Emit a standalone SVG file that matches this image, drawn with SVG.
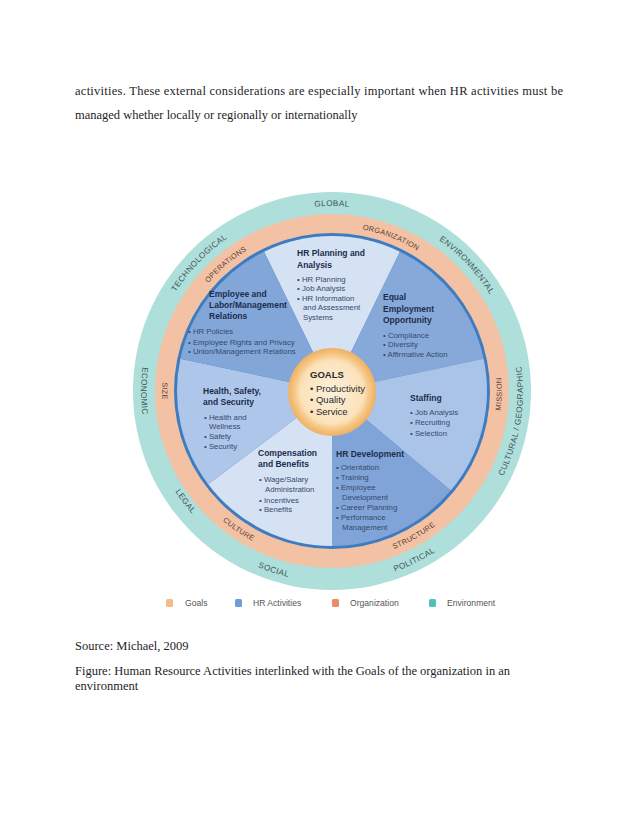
<svg xmlns="http://www.w3.org/2000/svg" width="638" height="826" viewBox="0 0 638 826">
<style>
.para{font-family:"Liberation Serif","Times New Roman",serif;font-size:12.5px;fill:#1e1e1e}
.env{font-family:"Liberation Sans",Arial,sans-serif;font-size:8.2px;fill:#3f5558;letter-spacing:0.4px}
.org{font-family:"Liberation Sans",Arial,sans-serif;font-size:7.4px;fill:#5a3d33;letter-spacing:0.3px}
.h{font-family:"Liberation Sans",Arial,sans-serif;font-size:8.5px;font-weight:bold;fill:#1d2d4d}
.b{font-family:"Liberation Sans",Arial,sans-serif;font-size:7.8px;fill:#36496d}
.g{font-family:"Liberation Sans",Arial,sans-serif;font-size:9.5px;fill:#2a2a2a}
.lg{font-family:"Liberation Sans",Arial,sans-serif;font-size:8.6px;fill:#555}
.sec{stroke:none}
</style>
<defs>
<radialGradient id="goalGrad" cx="50%" cy="50%" r="50%">
<stop offset="0%" stop-color="#fdf0db"/>
<stop offset="72%" stop-color="#fbe2ba"/>
<stop offset="84%" stop-color="#f6c98a"/>
<stop offset="100%" stop-color="#efb061"/>
</radialGradient>
<path id="pGlobal" d="M147,391 A185,185 0 0 1 517,391"/>
<path id="pEnv" d="M205.8,255.7 A185,185 0 0 1 458.2,526.3"/>
<path id="pTech" d="M203.5,524.1 A185,185 0 0 1 460.5,257.9"/>
<path id="pCult" d="M300.5,579.4 A191,191 0 0 0 363.5,202.6"/>
<path id="pPol" d="M160.3,474.7 A191,191 0 0 0 503.7,307.3"/>
<path id="pSoc" d="M150.3,332 A191,191 0 0 0 513.7,450"/>
<path id="pLegal" d="M217.1,238.5 A191,191 0 0 0 446.9,543.5"/>
<path id="pEcon" d="M332,200 A191,191 0 0 0 332,582"/>
<path id="pOper" d="M206.1,496.6 A164.3,164.3 0 0 1 457.9,285.4"/>
<path id="pOrg" d="M178.6,332.1 A164.3,164.3 0 0 1 485.4,449.9"/>
<path id="pMiss" d="M329,560.7 A169.7,169.7 0 0 0 335,221.3"/>
<path id="pStruct" d="M184.3,474.6 A169.7,169.7 0 0 0 479.7,307.4"/>
<path id="pCulture" d="M191.3,296.1 A169.7,169.7 0 0 0 472.7,485.9"/>
<path id="pSize" d="M332,221.3 A169.7,169.7 0 0 0 332,560.7"/>
</defs>
<rect width="638" height="826" fill="#ffffff"/>

<g id="intro-text">
<text class="para" x="75" y="95" textLength="488" lengthAdjust="spacing">activities. These external considerations are especially important when HR activities must be</text>
<text class="para" x="75" y="119">managed whether locally or regionally or internationally</text>
</g>

<g id="environment-ring">
<circle cx="332" cy="391" r="199" fill="#aedfdb"/>
<text class="env"><textPath href="#pGlobal" startOffset="50%" text-anchor="middle">GLOBAL</textPath></text>
<text class="env"><textPath href="#pEnv" startOffset="50%" text-anchor="middle">ENVIRONMENTAL</textPath></text>
<text class="env"><textPath href="#pTech" startOffset="50%" text-anchor="middle">TECHNOLOGICAL</textPath></text>
<text class="env"><textPath href="#pCult" startOffset="50%" text-anchor="middle">CULTURAL / GEOGRAPHIC</textPath></text>
<text class="env"><textPath href="#pPol" startOffset="50%" text-anchor="middle">POLITICAL</textPath></text>
<text class="env"><textPath href="#pSoc" startOffset="50%" text-anchor="middle">SOCIAL</textPath></text>
<text class="env"><textPath href="#pLegal" startOffset="50%" text-anchor="middle">LEGAL</textPath></text>
<text class="env"><textPath href="#pEcon" startOffset="50%" text-anchor="middle">ECONOMIC</textPath></text>
</g>

<g id="organization-ring">
<circle cx="332" cy="391" r="177" fill="#f3c2a5"/>
<text class="org"><textPath href="#pOper" startOffset="50%" text-anchor="middle">OPERATIONS</textPath></text>
<text class="org"><textPath href="#pOrg" startOffset="50%" text-anchor="middle">ORGANIZATION</textPath></text>
<text class="org"><textPath href="#pMiss" startOffset="50%" text-anchor="middle">MISSION</textPath></text>
<text class="org"><textPath href="#pStruct" startOffset="50%" text-anchor="middle">STRUCTURE</textPath></text>
<text class="org"><textPath href="#pCulture" startOffset="50%" text-anchor="middle">CULTURE</textPath></text>
<text class="org"><textPath href="#pSize" startOffset="50%" text-anchor="middle">SIZE</textPath></text>
</g>

<circle id="hr-ring" cx="332" cy="391" r="158" fill="#3e7cc1"/>

<g id="hr-planning">
<path class="sec" d="M332,391 L264.05,251.7 A155,155 0 0 1 399.95,251.7 Z" fill="#d5e2f3"/>
<text class="h" x="297" y="256">HR Planning and</text>
<text class="h" x="297" y="268">Analysis</text>
<text class="b" x="297" y="282">• HR Planning</text>
<text class="b" x="297" y="291">• Job Analysis</text>
<text class="b" x="297" y="301">• HR Information</text>
<text class="b" x="303" y="310">and Assessment</text>
<text class="b" x="303" y="320">Systems</text>
</g>

<g id="equal-employment">
<path class="sec" d="M332,391 L399.95,251.7 A155,155 0 0 1 483.6,358.8 Z" fill="#86a9d9"/>
<text class="h" x="383" y="300">Equal</text>
<text class="h" x="383" y="312">Employment</text>
<text class="h" x="383" y="323">Opportunity</text>
<text class="b" x="383" y="338">• Compliance</text>
<text class="b" x="383" y="347">• Diversity</text>
<text class="b" x="383" y="357">• Affirmative Action</text>
</g>

<g id="staffing">
<path class="sec" d="M332,391 L483.6,358.8 A155,155 0 0 1 450.7,490.6 Z" fill="#aac4e8"/>
<text class="h" x="410" y="401">Staffing</text>
<text class="b" x="410" y="415">• Job Analysis</text>
<text class="b" x="410" y="425">• Recruiting</text>
<text class="b" x="410" y="436">• Selection</text>
</g>

<g id="hr-development">
<path class="sec" d="M332,391 L450.7,490.6 A155,155 0 0 1 332,546 Z" fill="#80a4d7"/>
<text class="h" x="336" y="457">HR Development</text>
<text class="b" x="336" y="470">• Orientation</text>
<text class="b" x="336" y="480">• Training</text>
<text class="b" x="336" y="490">• Employee</text>
<text class="b" x="342" y="500">Development</text>
<text class="b" x="336" y="510">• Career Planning</text>
<text class="b" x="336" y="520">• Performance</text>
<text class="b" x="342" y="530">Management</text>
</g>

<g id="compensation">
<path class="sec" d="M332,391 L332,546 A155,155 0 0 1 208.2,484.3 Z" fill="#d5e2f3"/>
<text class="h" x="258" y="456">Compensation</text>
<text class="h" x="258" y="467">and Benefits</text>
<text class="b" x="259" y="482">• Wage/Salary</text>
<text class="b" x="265" y="492">Administration</text>
<text class="b" x="259" y="503">• Incentives</text>
<text class="b" x="259" y="512">• Benefits</text>
</g>

<g id="health-safety">
<path class="sec" d="M332,391 L208.2,484.3 A155,155 0 0 1 180.4,358.8 Z" fill="#adc6e9"/>
<text class="h" x="203" y="394">Health, Safety,</text>
<text class="h" x="203" y="405">and Security</text>
<text class="b" x="204" y="420">• Health and</text>
<text class="b" x="209" y="429">Wellness</text>
<text class="b" x="204" y="439">• Safety</text>
<text class="b" x="204" y="449">• Security</text>
</g>

<g id="employee-relations">
<path class="sec" d="M332,391 L180.4,358.8 A155,155 0 0 1 264.05,251.7 Z" fill="#82a6d8"/>
<text class="h" x="209" y="297">Employee and</text>
<text class="h" x="209" y="308">Labor/Management</text>
<text class="h" x="209" y="319">Relations</text>
<text class="b" x="188" y="334">• HR Policies</text>
<text class="b" x="188" y="345">• Employee Rights and Privacy</text>
<text class="b" x="188" y="354">• Union/Management Relations</text>
</g>

<g id="goals">
<circle cx="332" cy="392" r="44" fill="url(#goalGrad)"/>
<text class="g" x="310" y="378" font-weight="bold">GOALS</text>
<text class="g" x="310" y="392">• Productivity</text>
<text class="g" x="310" y="403">• Quality</text>
<text class="g" x="310" y="415">• Service</text>
</g>

<g id="legend">
<rect x="166" y="599" width="7" height="8" rx="1.5" fill="#f2be86"/>
<text class="lg" x="185" y="606">Goals</text>
<rect x="235" y="599" width="7" height="8" rx="1.5" fill="#6e9dd8"/>
<text class="lg" x="253" y="606">HR Activities</text>
<rect x="332" y="599" width="7" height="8" rx="1.5" fill="#e88d63"/>
<text class="lg" x="350" y="606">Organization</text>
<rect x="429" y="599" width="7" height="8" rx="1.5" fill="#52bfba"/>
<text class="lg" x="447" y="606">Environment</text>
</g>

<g id="caption">
<text class="para" x="75" y="650">Source: Michael, 2009</text>
<text class="para" x="75" y="675">Figure: Human Resource Activities interlinked with the Goals of the organization in an</text>
<text class="para" x="75" y="690">environment</text>
</g>
</svg>
